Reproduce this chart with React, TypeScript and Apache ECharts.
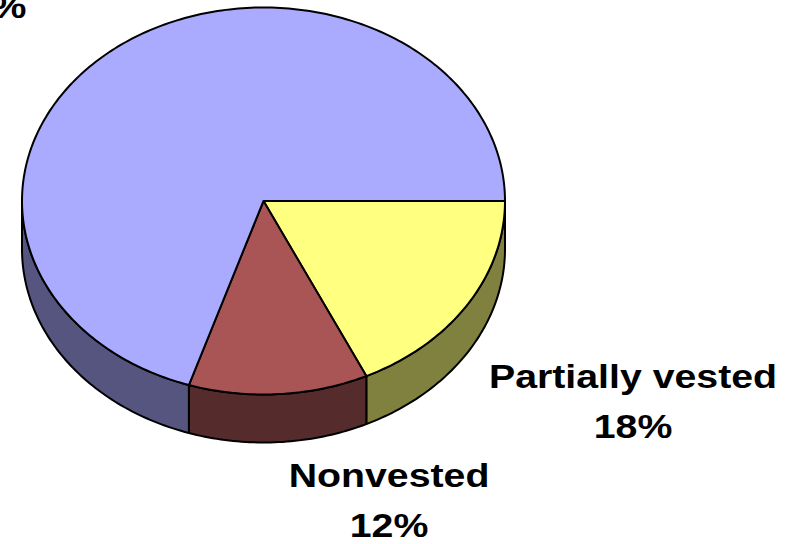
import React, { useEffect, useRef } from "react";
import * as echarts from "echarts";

const categories = ["Partially vested", "Nonvested", "Fully vested"];
const values = [18, 12, 70];
const percentLabels = ["18%", "12%", "70%"];

const topColors = ["#FFFF80", "#AA5555", "#AAAAFF"];
const sideColors = ["#80803F", "#552B2B", "#55557F"];
// label anchors (center x, top y of text block)
const labelAnchors = [
  [633, 351.5],
  [389, 450.5],
  [-13, -68.5],
];

const CX = 263.5;
const CY = 201;
const RX = 241.5;
const RY = 193.5;
const DEPTH = 48;
const START_ANGLE = 0; // degrees, clockwise from 3 o'clock

function pt(deg: number, dy = 0): number[] {
  const r = (deg * Math.PI) / 180;
  return [CX + RX * Math.cos(r), CY + RY * Math.sin(r) + dy];
}

function arcPoints(a0: number, a1: number, dy = 0): number[][] {
  const pts: number[][] = [];
  const steps = Math.max(2, Math.ceil(Math.abs(a1 - a0)));
  for (let i = 0; i <= steps; i++) {
    pts.push(pt(a0 + ((a1 - a0) * i) / steps, dy));
  }
  return pts;
}

export default function App() {
  const ref = useRef<HTMLDivElement>(null);

  useEffect(() => {
    if (!ref.current) return;
    const chart = echarts.init(ref.current, undefined, { renderer: "svg" });
    const total = values.reduce((a, b) => a + b, 0);
    const starts: number[] = [];
    let acc = START_ANGLE;
    values.forEach((v) => {
      starts.push(acc);
      acc += (v / total) * 360;
    });

    const option: any = {
      animation: false,
      backgroundColor: "#ffffff",
      series: [
        {
          type: "custom",
          coordinateSystem: "none",
          data: values.map((v, i) => [i, v]),
          renderItem: (params: any, api: any) => {
            const i = params.dataIndex;
            const v = api.value(1);
            const a0 = starts[i];
            const a1 = a0 + (v / total) * 360;
            const children: any[] = [];
            const ranges = [
              [0, 180],
              [360, 540],
            ];
            ranges.forEach(([r0, r1]) => {
              const s = Math.max(a0, r0);
              const e = Math.min(a1, r1);
              if (e > s) {
                const top = arcPoints(s, e, 0);
                const bottom = arcPoints(s, e, DEPTH).reverse();
                children.push({
                  type: "polygon",
                  z2: 1,
                  shape: { points: top.concat(bottom) },
                  style: {
                    fill: sideColors[i],
                    stroke: "#000000",
                    lineWidth: 2,
                    lineJoin: "round",
                  },
                });
              }
            });
            children.push({
              type: "polygon",
              z2: 5,
              shape: { points: [[CX, CY]].concat(arcPoints(a0, a1, 0)) },
              style: {
                fill: topColors[i],
                stroke: "#000000",
                lineWidth: 2,
                lineJoin: "round",
              },
            });
            const [lx, ly] = labelAnchors[i];
            children.push({
              type: "text",
              z2: 10,
              x: lx,
              y: ly,
              scaleX: 1.19,
              style: {
                text: categories[i] + "\n" + percentLabels[i],
                font: 'bold 33px "Liberation Sans", Arial, sans-serif',
                fill: "#000000",
                align: "center",
                verticalAlign: "top",
                lineHeight: 50,
              },
            });
            return { type: "group", children };
          },
        },
      ],
    };
    chart.setOption(option);
    return () => chart.dispose();
  }, []);

  return (
    <div
      ref={ref}
      style={{ position: "absolute", left: 0, top: 0, width: 801, height: 544 }}
    />
  );
}
